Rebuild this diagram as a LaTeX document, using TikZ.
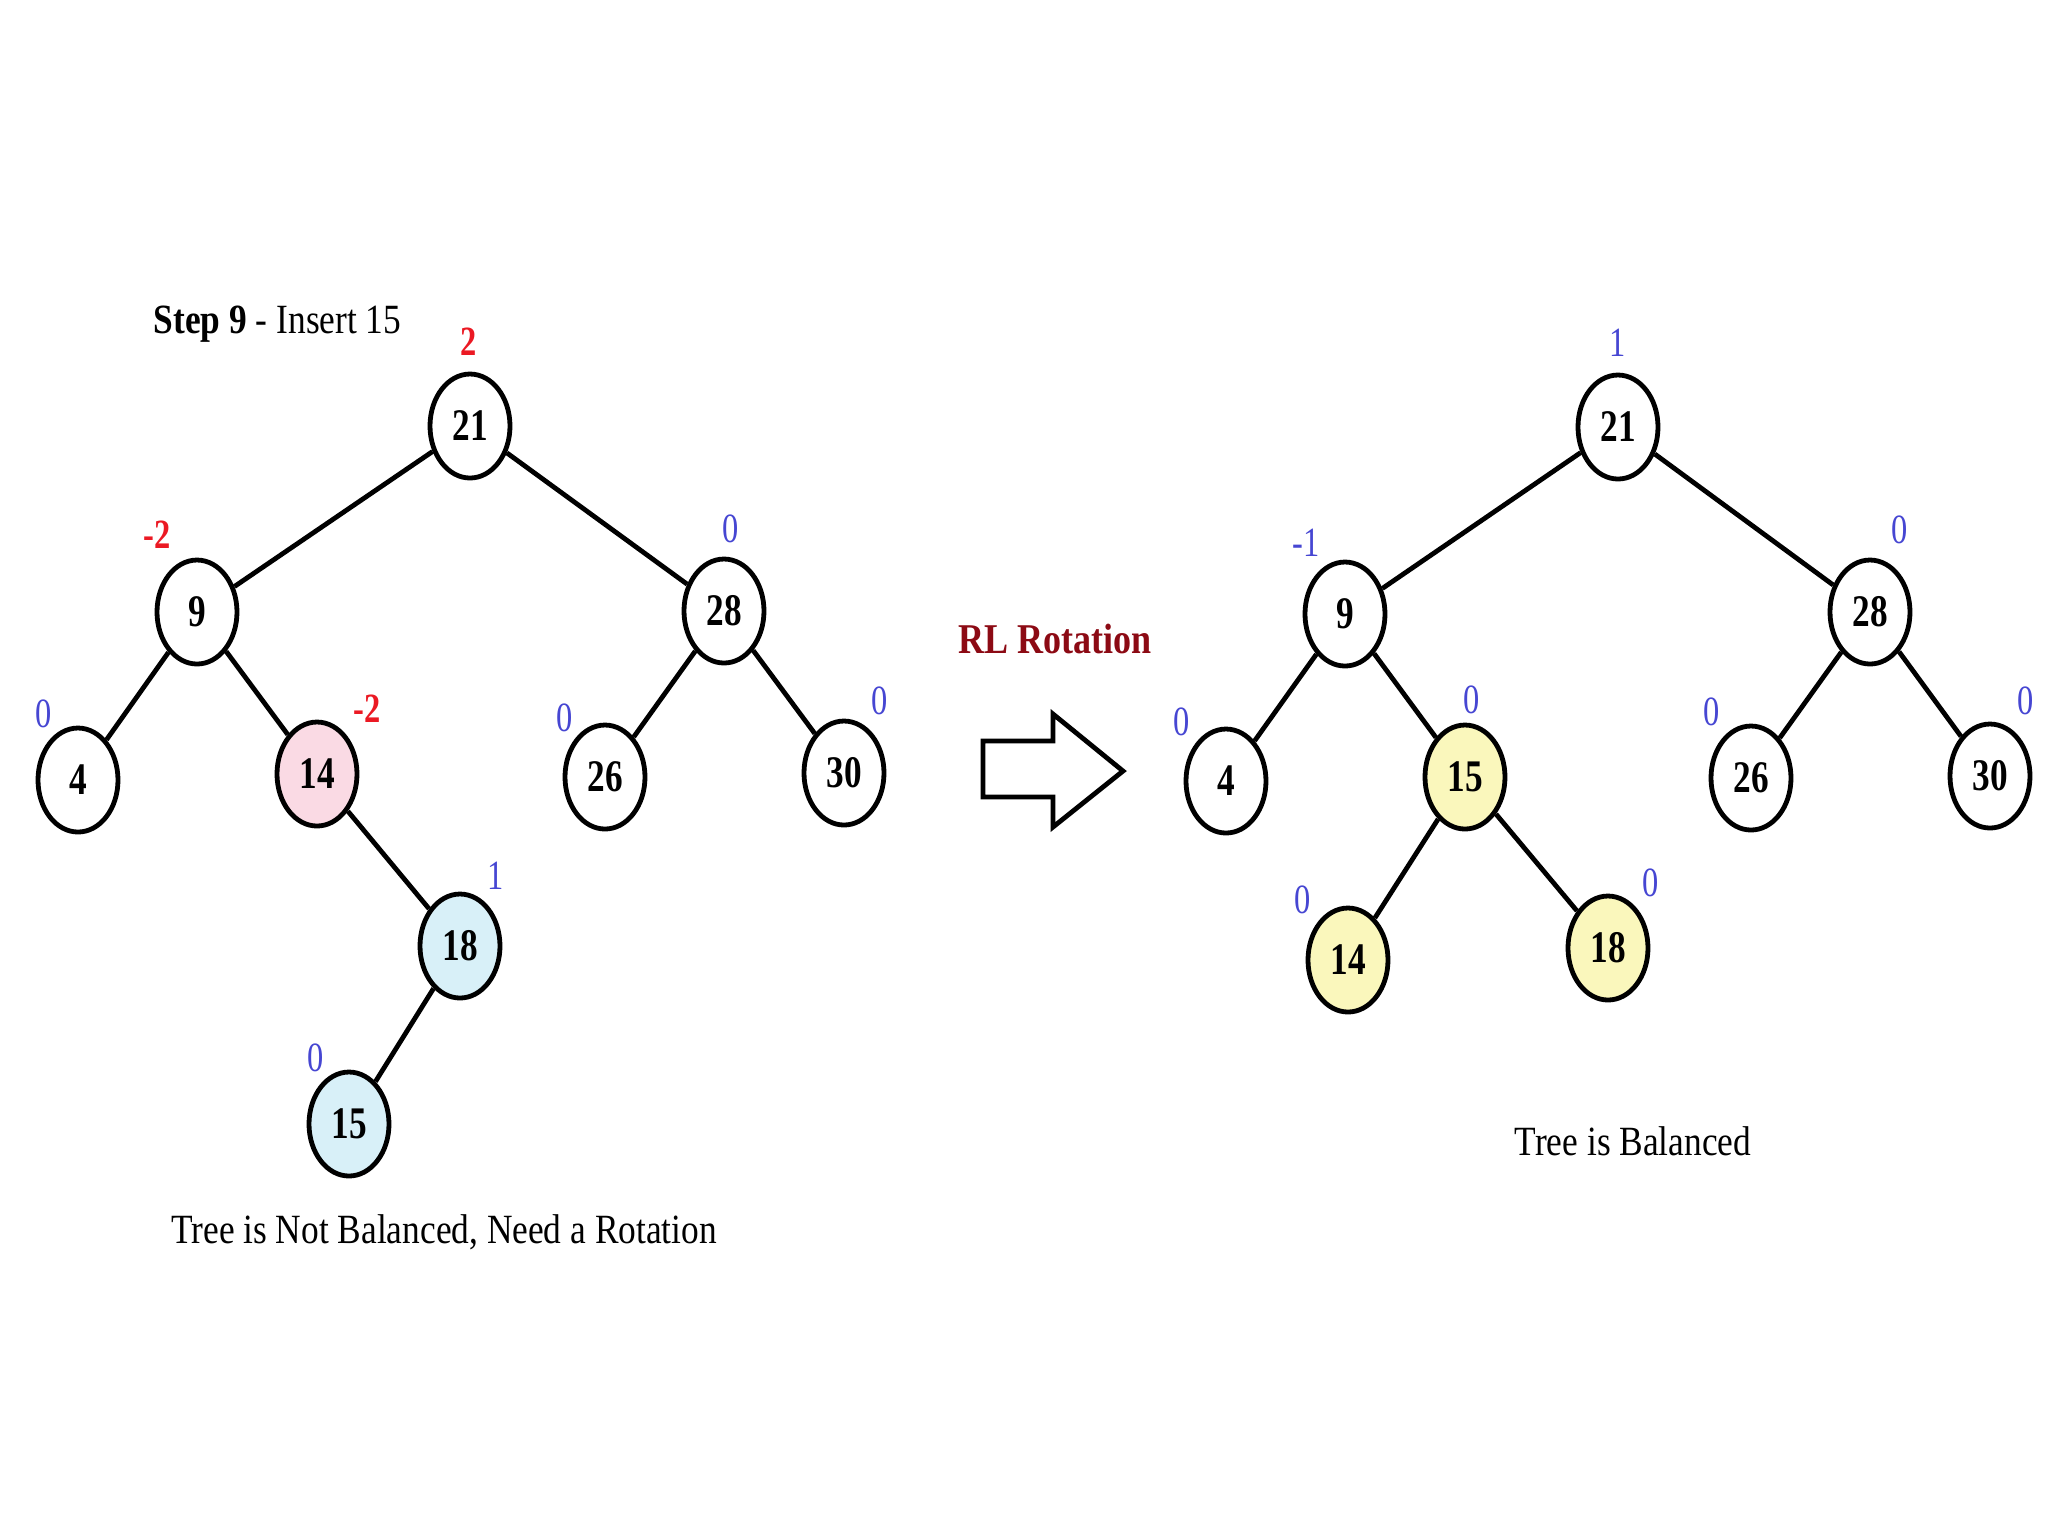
\documentclass[tikz,border=0pt]{standalone}
\usepackage{fontspec}
\setmainfont{Liberation Serif}
\usepackage{tikz}
\usetikzlibrary{shapes.geometric}
\usepackage{xcolor}

\definecolor{balred}{RGB}{235,25,35}
\definecolor{balblue}{RGB}{70,70,210}
\definecolor{rotred}{RGB}{140,10,20}
\definecolor{pinkfill}{RGB}{250,218,228}
\definecolor{bluefill}{RGB}{216,240,248}
\definecolor{yellowfill}{RGB}{250,247,188}

\newcommand{\narrow}[1]{\scalebox{0.78}[1]{#1}}
\newcommand{\wider}[1]{\scalebox{0.85}[1]{#1}}

\tikzset{
  avl/.style={draw, line width=1.2pt, ellipse, minimum width=20pt, minimum height=26pt, inner sep=0pt, font=\fontsize{11.3}{12}\selectfont\bfseries},
  bal/.style={inner sep=0pt, font=\fontsize{10.4}{12}\selectfont},
  edge/.style={line width=1.2pt},
  caption/.style={inner sep=0pt, font=\fontsize{10.4}{12}\selectfont}
}

\begin{document}
\begin{tikzpicture}[x=0.25pt,y=0.25pt,yscale=-1,xscale=1]
\useasboundingbox (0,0) rectangle (2048,1536);
                    % Left tree
                    \node [avl] (l21) at (470,426) {\narrow{21}};
                    \node [avl] (l9) at (197,612) {\narrow{9}};
                    \node [avl] (l28) at (724,611) {\narrow{28}};
                    \node [avl] (l4) at (78,780) {\narrow{4}};
                    \node [avl, fill=pinkfill] (l14) at (317,774) {\narrow{14}};
                    \node [avl] (l26) at (605,777) {\narrow{26}};
                    \node [avl] (l30) at (844,773) {\narrow{30}};
                    \node [avl, fill=bluefill] (l18) at (460,946) {\narrow{18}};
                    \node [avl, fill=bluefill] (l15) at (349,1124) {\narrow{15}};
                    \draw [edge] (l21) -- (l9);
                    \draw [edge] (l21) -- (l28);
                    \draw [edge] (l9) -- (l4);
                    \draw [edge] (l9) -- (l14);
                    \draw [edge] (l28) -- (l26);
                    \draw [edge] (l28) -- (l30);
                    \draw [edge] (l14) -- (l18);
                    \draw [edge] (l18) -- (l15);

                    % Balance factors
                    \node [bal, text=balred] (lb21) at (469,342) {\narrow{\bfseries 2}};
                    \node [bal, text=balred] (lb9) at (157,535) {\narrow{\bfseries -2}};
                    \node [bal, text=balblue] (lb28) at (731,529) {\narrow{0}};
                    \node [bal, text=balblue] (lb4) at (44,714) {\narrow{0}};
                    \node [bal, text=balred] (lb14) at (367,709) {\narrow{\bfseries -2}};
                    \node [bal, text=balblue] (lb26) at (565,718) {\narrow{0}};
                    \node [bal, text=balblue] (lb30) at (880,701) {\narrow{0}};
                    \node [bal, text=balblue] (lb18) at (496,876) {\narrow{1}};
                    \node [bal, text=balblue] (lb15) at (316,1058) {\narrow{0}};

                    % Text Node
                    \node [caption, anchor=west] (step) at (153,324) {\wider{\textbf{Step 9} - Insert 15}};
                    % Text Node
                    \node [caption] (notbal) at (444,1232) {\wider{Tree is Not Balanced, Need a Rotation}};

                    % Rotation arrow
                    \node [caption, text=rotred, font=\fontsize{10.6}{12}\selectfont\bfseries] (rot) at (1055,639) {\wider{RL Rotation}};
                    \draw [line width=1.2pt, line join=miter] (983,741) -- (1053,741) -- (1053,714) -- (1123,771) -- (1053,827) -- (1053,797) -- (983,797) -- cycle;

                    % Right tree
                    \node [avl] (r21) at (1618,427) {\narrow{21}};
                    \node [avl] (r9) at (1345,614) {\narrow{9}};
                    \node [avl] (r28) at (1870,612) {\narrow{28}};
                    \node [avl] (r4) at (1226,781) {\narrow{4}};
                    \node [avl, fill=yellowfill] (r15) at (1465,777) {\narrow{15}};
                    \node [avl] (r26) at (1751,778) {\narrow{26}};
                    \node [avl] (r30) at (1990,776) {\narrow{30}};
                    \node [avl, fill=yellowfill] (r14) at (1348,960) {\narrow{14}};
                    \node [avl, fill=yellowfill] (r18) at (1608,948) {\narrow{18}};
                    \draw [edge] (r21) -- (r9);
                    \draw [edge] (r21) -- (r28);
                    \draw [edge] (r9) -- (r4);
                    \draw [edge] (r9) -- (r15);
                    \draw [edge] (r28) -- (r26);
                    \draw [edge] (r28) -- (r30);
                    \draw [edge] (r15) -- (r14);
                    \draw [edge] (r15) -- (r18);

                    % Balance factors
                    \node [bal, text=balblue] (rb21) at (1618,343) {\narrow{1}};
                    \node [bal, text=balblue] (rb9) at (1306,543) {\narrow{-1}};
                    \node [bal, text=balblue] (rb28) at (1900,530) {\narrow{0}};
                    \node [bal, text=balblue] (rb4) at (1182,722) {\narrow{0}};
                    \node [bal, text=balblue] (rb15) at (1472,700) {\narrow{0}};
                    \node [bal, text=balblue] (rb26) at (1712,712) {\narrow{0}};
                    \node [bal, text=balblue] (rb30) at (2026,701) {\narrow{0}};
                    \node [bal, text=balblue] (rb14) at (1303,900) {\narrow{0}};
                    \node [bal, text=balblue] (rb18) at (1651,883) {\narrow{0}};

                    % Text Node
                    \node [caption] (bal) at (1633,1141) {\wider{Tree is Balanced}};
\end{tikzpicture}
\end{document}
